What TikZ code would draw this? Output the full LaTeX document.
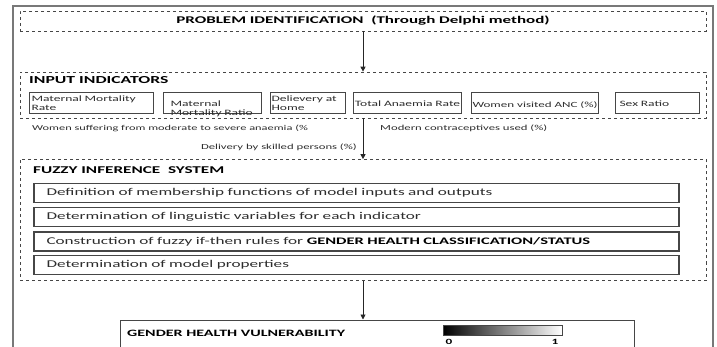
\documentclass[tikz,border=0pt]{standalone}
\usepackage{fontspec}
\setmainfont{Carlito}[FakeStretch=1.65]
\usetikzlibrary{arrows.meta,positioning}
\definecolor{framegray}{RGB}{120,120,120}
\definecolor{boxgray}{RGB}{70,70,70}
\definecolor{txtgray}{RGB}{45,45,45}

\begin{document}
\begin{tikzpicture}[x=1pt,y=-1pt,
    dashbox/.style={draw=boxgray, dashed, line width=0.7pt, minimum width=686pt, inner sep=0pt},
    indbox/.style={draw=boxgray, line width=1pt, anchor=west, minimum height=21pt, align=left,
      inner xsep=1.5pt, inner ysep=0pt, text=txtgray, font=\fontsize{8.2}{8.7}\selectfont},
    rowbox/.style={draw=boxgray, line width=1.3pt, minimum width=645pt, minimum height=19pt,
      text width=620pt, inner xsep=12.5pt, inner ysep=0pt, align=left, text=txtgray,
      font=\fontsize{10.4}{12}\selectfont},
    note/.style={inner sep=0pt, text=txtgray, font=\fontsize{7.7}{8}\selectfont},
    heading/.style={inner sep=0pt, anchor=west, font=\fontsize{10.5}{11}\selectfont\bfseries},
    arrow/.style={-{Triangle[length=5pt,width=5pt]}, line width=0.9pt, black!85}
]
\clip (0,0) rectangle (717,347);
\useasboundingbox (0,0) rectangle (717,347);

% outer frame
\draw[framegray, line width=1.6pt] (13,360) -- (13,6) -- (713,6) -- (713,360);

% problem identification
\node[dashbox, minimum height=20pt, font=\fontsize{10.3}{12}\selectfont\bfseries] (prob) at (363,21)
  {PROBLEM IDENTIFICATION\ \ (Through Delphi method)};

% input indicators
\node[dashbox, minimum height=46pt] (inp) at (363,95) {};
\node[heading, font=\fontsize{10.7}{11}\selectfont\bfseries] (inptitle) at (29,80) {INPUT INDICATORS};
\node[indbox, minimum width=124pt, text width=120pt] (mmrate) at (29,103.5) {Maternal Mortality\\Rate};
\node[indbox, minimum width=97pt, text width=84pt, inner xsep=7pt, text depth=-4pt] (mmratio) at (163,103.5) {Maternal\\Mortality Ratio};
\node[indbox, minimum width=75pt, text width=73pt, inner xsep=0.5pt] (home) at (270,103.5) {Delievery at\\Home};
\node[indbox, minimum width=108pt, text width=106pt, inner xsep=1pt, align=center] (anaemia) at (353,103.5) {Total Anaemia Rate};
\node[indbox, minimum width=126pt, inner xsep=1pt, text height=9pt, font=\fontsize{7.9}{8.5}\selectfont] (anc) at (471,103.5) {Women visited ANC (\%)};
\node[indbox, minimum width=84pt, text width=76pt, inner xsep=4pt, text depth=-1pt] (sexratio) at (615,103.5) {Sex Ratio};

\node[note, anchor=west, font=\fontsize{7.5}{8}\selectfont] (anaemiapc) at (32,128) {Women suffering from moderate to severe anaemia (\%};
\node[note, anchor=west] (contra) at (380,128) {Modern contraceptives used (\%)};
\node[note, anchor=east] (skilled) at (357,147) {Delivery by skilled persons (\%)};

% fuzzy inference system
\node[dashbox, minimum height=121pt] (fis) at (363,220) {};
\node[heading, font=\fontsize{10.4}{11}\selectfont\bfseries] (fistitle) at (33,170) {FUZZY INFERENCE\ \ SYSTEM};
\node[rowbox] (memb) at (356.5,193) {Definition of membership functions of model inputs and outputs};
\node[rowbox] (ling) at (356.5,217) {Determination of linguistic variables for each indicator};
\node[rowbox] (rules) at (356.5,241.5) {Construction of fuzzy if-then rules for {\color{black}\fontsize{10}{10}\selectfont\bfseries GENDER HEALTH CLASSIFICATION/STATUS}};
\node[rowbox] (props) at (356.5,265) {Determination of model properties};

% output
\node[draw=boxgray, line width=1pt, minimum width=514pt, minimum height=32pt, inner sep=0pt] (ghv) at (377,336) {};
\node[heading, font=\fontsize{9.7}{10}\selectfont\bfseries] (ghvtitle) at (127,333) {GENDER HEALTH VULNERABILITY};
\node[draw=boxgray, line width=0.8pt, left color=black, right color=white, minimum width=119pt,
  minimum height=10pt, inner sep=0pt] (scale) at (502.5,330) {};
\node[inner sep=0pt, font=\fontsize{8}{8}\selectfont\bfseries] (zero) at (449,341.5) {0};
\node[inner sep=0pt, font=\fontsize{8}{8}\selectfont\bfseries] (one) at (555,341.5) {1};

% connectors
\draw[arrow] (prob.south) -- (inp.north);
\draw[arrow] (inp.south) -- (fis.north);
\draw[arrow] (fis.south) -- (fis.south |- ghv.north);
\end{tikzpicture}
\end{document}
